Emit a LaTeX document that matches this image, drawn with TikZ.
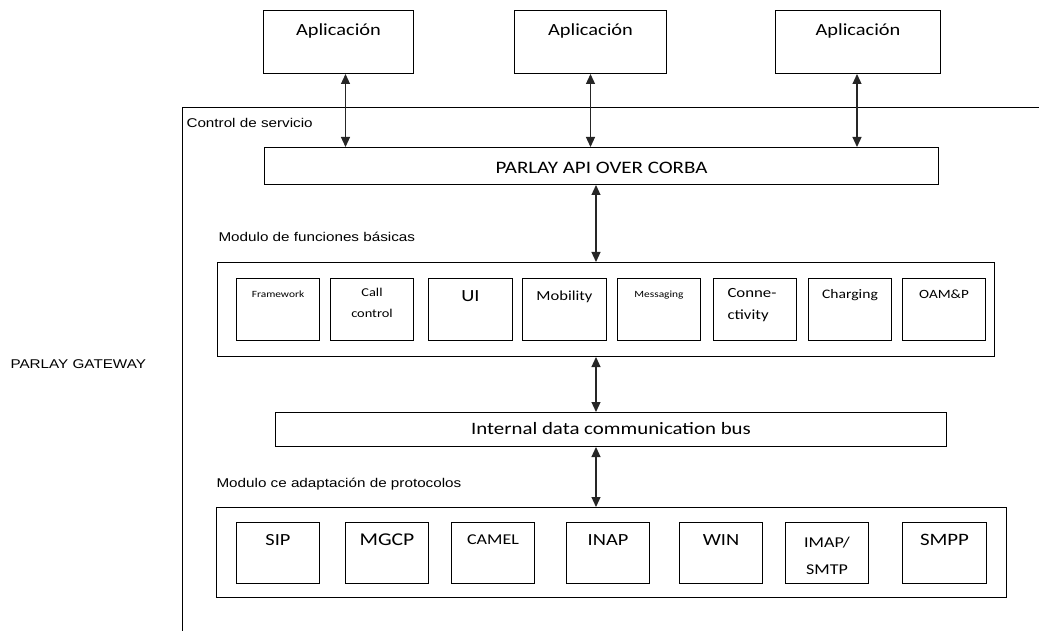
\documentclass[tikz,border=0pt]{standalone}
\usepackage{fontspec}
\setmainfont{Carlito}[FakeStretch=1.2]
\newfontfamily\arialfont{Liberation Sans}[FakeStretch=1.2]
\usetikzlibrary{arrows.meta}
\newcommand\fsz[2]{\fontsize{#1}{#2}\selectfont}

\begin{document}
\begin{tikzpicture}[x=1pt,y=-1pt,line width=1pt,
	blk/.style 2 args={draw,anchor=north west,inner sep=0pt,minimum width=#1,minimum height=#2},
	tag/.style={anchor=north,align=center,inner sep=0pt},
	txt/.style={anchor=base west,inner sep=0pt,font=\arialfont\fsz{12.7}{15}},
	dbl/.style={>={Triangle[length=10pt,width=9pt]},<->,line width=1.2pt,draw=black!85}]
	\useasboundingbox (0,0) rectangle (1039,631);
	\draw (1039,108) -- (182,108) -- (182,631);
	\node[txt] (ctl) at (186,128) {Control de servicio};
	\node[txt] (mfb) at (218,242) {Modulo de funciones básicas};
	\node[txt] (map) at (216,487) {Modulo ce adaptación de protocolos};
	\node[txt] (pgw) at (10,368) {PARLAY GATEWAY};

	\node[blk={150pt}{63pt}] (app1) at (263,10) {};
	\node[blk={152pt}{63pt}] (app2) at (514,10) {};
	\node[blk={165pt}{63pt}] (app3) at (775,10) {};
	\node[tag,font=\fsz{17}{20}] (app1t) at ([yshift=-13pt]app1.north) {Aplicación};
	\node[tag,font=\fsz{17}{20}] (app2t) at ([yshift=-13pt]app2.north) {Aplicación};
	\node[tag,font=\fsz{17}{20}] (app3t) at ([yshift=-13pt]app3.north) {Aplicación};

	\node[blk={674pt}{37pt}] (api) at (264,147) {};
	\node[tag,font=\fsz{17.5}{20}] (apit) at ([yshift=-15pt]api.north) {PARLAY API OVER CORBA};

	\node[blk={777pt}{94pt}] (func) at (217,262) {};
	\node[blk={83pt}{62pt}] (fw) at (236,278) {};
	\node[blk={83pt}{62pt}] (cc) at (330,278) {};
	\node[blk={84pt}{62pt}] (ui) at (428,278) {};
	\node[blk={84pt}{62pt}] (mob) at (522,278) {};
	\node[blk={83pt}{62pt}] (msg) at (617,278) {};
	\node[blk={83pt}{62pt}] (con) at (713,278) {};
	\node[blk={83pt}{62pt}] (chg) at (808,278) {};
	\node[blk={83pt}{62pt}] (oam) at (902,278) {};
	\node[tag,font=\fsz{9.5}{12}] (fwt) at ([yshift=-12pt]fw.north) {Framework};
	\node[tag,font=\fsz{12}{21}] (cct) at ([yshift=-10pt]cc.north) {Call\\control};
	\node[tag,font=\fsz{17}{20}] (uit) at ([yshift=-12pt]ui.north) {UI};
	\node[tag,font=\fsz{13.8}{20}] (mobt) at ([yshift=-12pt]mob.north) {Mobility};
	\node[tag,font=\fsz{9.5}{12}] (msgt) at ([yshift=-12pt]msg.north) {Messaging};
	\node[tag,align=left,font=\fsz{14}{22}] (cont) at ([xshift=-3pt,yshift=-10pt]con.north) {Conne-\\ctivity};
	\node[tag,font=\fsz{13}{20}] (chgt) at ([yshift=-11pt]chg.north) {Charging};
	\node[tag,font=\fsz{12.6}{20}] (oamt) at ([yshift=-11pt]oam.north) {OAM\&P};

	\node[blk={671pt}{34pt}] (bus) at (275,412) {};
	\node[tag,font=\fsz{17.4}{20}] (bust) at ([yshift=-10pt]bus.north) {Internal data communication bus};

	\node[blk={790pt}{90pt}] (prot) at (216,507) {};
	\node[blk={83pt}{61pt}] (sip) at (236,522) {};
	\node[blk={83pt}{61pt}] (mgcp) at (345,522) {};
	\node[blk={83pt}{61pt}] (camel) at (451,522) {};
	\node[blk={83pt}{61pt}] (inap) at (566,522) {};
	\node[blk={83pt}{61pt}] (win) at (679,522) {};
	\node[blk={83pt}{61pt}] (imap) at (785,522) {};
	\node[blk={84pt}{61pt}] (smpp) at (902,522) {};
	\node[tag,font=\fsz{17}{20}] (sipt) at ([yshift=-12pt]sip.north) {SIP};
	\node[tag,font=\fsz{18}{20}] (mgcpt) at ([yshift=-11pt]mgcp.north) {MGCP};
	\node[tag,font=\fsz{15}{20}] (camelt) at ([yshift=-12pt]camel.north) {CAMEL};
	\node[tag,font=\fsz{17}{20}] (inapt) at ([yshift=-12pt]inap.north) {INAP};
	\node[tag,font=\fsz{17}{20}] (wint) at ([yshift=-12pt]win.north) {WIN};
	\node[tag,font=\fsz{15}{27}] (imapt) at ([yshift=-15pt]imap.north) {IMAP/\\SMTP};
	\node[tag,font=\fsz{17.4}{20}] (smppt) at ([yshift=-12pt]smpp.north) {SMPP};

	\coordinate (c1) at ([xshift=7pt]app1.south);
	\coordinate (c3) at ([xshift=-1pt]app3.south);
	\coordinate (ax) at (596,0);
	\draw[dbl] (c1) -- (c1 |- api.north);
	\draw[dbl] (app2.south) -- (app2.south |- api.north);
	\draw[dbl] (c3) -- (c3 |- api.north);
	\draw[dbl] (api.south -| ax) -- (func.north -| ax);
	\draw[dbl] (func.south -| ax) -- (bus.north -| ax);
	\draw[dbl] (bus.south -| ax) -- (prot.north -| ax);
\end{tikzpicture}
\end{document}
